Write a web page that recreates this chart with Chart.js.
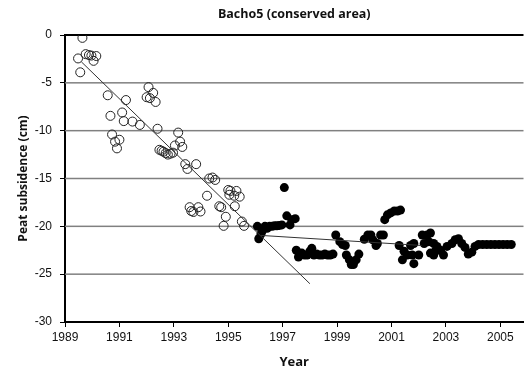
<!DOCTYPE html>
<html>
<head>
<meta charset="utf-8">
<script src="https://cdn.jsdelivr.net/npm/chart.js@4"></script>
<style>
    body { margin: 0; background: #fff; }
    #wrap { width: 529px; height: 371px; position: relative; }
</style>
</head>
<body>
<div id="wrap"><canvas id="subsidenceChart"></canvas></div>
<script>
// Open circles (before 1996): [year, subsidence cm]
const openPoints = [
    [1989.48, -2.45], [1989.56, -3.9], [1989.64, -0.3], [1989.76, -2.0], [1989.88, -2.1],
    [1989.97, -2.15], [1990.05, -2.7], [1990.15, -2.2], [1990.57, -6.3], [1990.67, -8.45],
    [1990.73, -10.4], [1990.84, -11.15], [1990.91, -11.85], [1991.0, -10.95], [1991.1, -8.1],
    [1991.16, -9.0], [1991.24, -6.8], [1991.48, -9.05], [1991.75, -9.4], [1992.0, -6.5],
    [1992.07, -5.45], [1992.12, -6.6], [1992.24, -6.05], [1992.33, -7.0], [1992.4, -9.8],
    [1992.47, -12.0], [1992.55, -12.1], [1992.62, -12.2], [1992.7, -12.35], [1992.78, -12.5],
    [1992.88, -12.4], [1992.97, -12.3], [1993.04, -11.55], [1993.16, -10.2], [1993.23, -11.15],
    [1993.31, -11.7], [1993.42, -13.5], [1993.5, -14.0], [1993.82, -13.5], [1993.58, -18.0],
    [1993.64, -18.4], [1993.72, -18.5], [1993.9, -18.0], [1993.98, -18.45], [1994.22, -16.8],
    [1994.3, -15.0], [1994.42, -14.9], [1994.52, -15.15], [1994.67, -17.9], [1994.74, -18.0],
    [1994.83, -19.95], [1994.91, -19.0], [1995.0, -16.2], [1995.08, -16.3], [1995.3, -16.3],
    [1995.42, -16.9], [1995.24, -17.9], [1995.5, -19.5], [1995.58, -19.95], [1995.04, -16.7],
    [1995.22, -16.8]
];

// Filled circles (1996 onwards)
const filledPoints = [
    [1996.07, -20.0], [1996.12, -21.3], [1996.2, -20.8], [1996.25, -20.5], [1996.35, -20.0],
    [1996.43, -20.2], [1996.52, -20.0], [1996.61, -20.0], [1996.7, -19.95], [1996.79, -19.95],
    [1996.88, -19.9], [1996.97, -19.85], [1997.06, -15.95], [1997.15, -18.9], [1997.27, -19.85],
    [1997.33, -19.3], [1997.46, -19.2], [1997.5, -22.5], [1997.58, -23.2], [1997.7, -22.8],
    [1997.8, -23.0], [1997.9, -23.0], [1998.0, -22.6], [1998.07, -22.3], [1998.15, -23.0],
    [1998.25, -22.9], [1998.35, -23.0], [1998.45, -23.0], [1998.55, -22.9], [1998.65, -23.0],
    [1998.75, -23.0], [1998.85, -22.9], [1998.95, -20.9], [1999.1, -21.6], [1999.2, -21.9],
    [1999.3, -22.0], [1999.34, -23.0], [1999.45, -23.5], [1999.52, -24.0], [1999.6, -24.0],
    [1999.7, -23.5], [1999.8, -22.9], [2000.0, -21.35], [2000.13, -20.9], [2000.24, -20.9],
    [2000.31, -21.4], [2000.43, -22.0], [2000.48, -21.8], [2000.6, -20.9], [2000.7, -20.9],
    [2000.75, -19.3], [2000.85, -18.8], [2000.97, -18.6], [2001.1, -18.4], [2001.22, -18.4],
    [2001.33, -18.3], [2001.28, -22.0], [2001.4, -23.5], [2001.46, -22.6], [2001.58, -23.0],
    [2001.7, -22.0], [2001.76, -23.0], [2001.82, -23.9], [2001.82, -21.8], [2002.0, -23.0],
    [2002.13, -20.9], [2002.2, -21.8], [2002.31, -20.9], [2002.37, -21.6], [2002.43, -20.7],
    [2002.43, -22.8], [2002.55, -21.8], [2002.55, -23.0], [2002.61, -22.6], [2002.67, -22.1],
    [2002.8, -22.5], [2002.91, -23.0], [2003.04, -22.1], [2003.22, -21.8], [2003.34, -21.4],
    [2003.46, -21.3], [2003.58, -21.8], [2003.7, -22.2], [2003.82, -22.9], [2003.95, -22.7],
    [2004.07, -22.1], [2004.2, -21.9], [2004.35, -21.9], [2004.5, -21.9], [2004.65, -21.9],
    [2004.8, -21.9], [2004.95, -21.9], [2005.1, -21.9], [2005.25, -21.9], [2005.4, -21.9]
];

// Trend lines (end points)
const trendEarly = [[1989.6, -2.8], [1998.0, -26.0]];
const trendLate = [[1996.2, -20.95], [2002.1, -22.0]];

const xTicks = [1989, 1991, 1993, 1995, 1997, 1999, 2001, 2003, 2005];
const yTicks = [-30, -25, -20, -15, -10, -5, 0];
const xMin = 1989;
const xMax = 2005.85;

const toXY = arr => arr.map(p => ({ x: p[0], y: p[1] }));

const tickFont = { family: '"Liberation Sans", Arial, sans-serif', size: 12 };
const boldFont = size => ({ family: '"Open Sans", sans-serif', size: size, weight: 'bold' });

// horizontal grid lines, filled as thin bands through the y scale
const gridPlugin = {
    id: 'hgrid',
    beforeDatasetsDraw(chart) {
        const { ctx, chartArea, scales } = chart;
        ctx.save();
        yTicks.forEach(v => {
            if (v === -30) return;
            const py = scales.y.getPixelForValue(v);
            ctx.fillStyle = v === 0 ? '#000000' : '#808080';
            const h = v === 0 ? 2 : 1.5;
            ctx.fillRect(chartArea.left, py - h / 2, chartArea.right - chartArea.left, h);
        });
        ctx.restore();
    }
};

new Chart(document.getElementById('subsidenceChart'), {
    type: 'scatter',
    data: {
        datasets: [
            {
                type: 'line',
                data: toXY(trendEarly),
                borderColor: '#333',
                borderWidth: 1,
                pointRadius: 0,
                fill: false,
                order: 0
            },
            {
                type: 'line',
                data: toXY(trendLate),
                borderColor: '#333',
                borderWidth: 1,
                pointRadius: 0,
                fill: false,
                order: 0
            },
            {
                data: toXY(openPoints),
                pointStyle: 'circle',
                pointRadius: 4.5,
                borderColor: '#222',
                borderWidth: 1,
                backgroundColor: 'rgba(0,0,0,0)',
                order: 1
            },
            {
                data: toXY(filledPoints),
                pointStyle: 'circle',
                pointRadius: 4.5,
                borderColor: '#000',
                borderWidth: 0,
                backgroundColor: '#000',
                order: 1
            }
        ]
    },
    options: {
        responsive: true,
        maintainAspectRatio: false,
        animation: false,
        layout: { padding: { right: -5 } },
        plugins: {
            legend: { display: false },
            tooltip: { enabled: false },
            title: {
                display: true,
                text: 'Bacho5 (conserved area)',
                color: '#111',
                font: boldFont(12.5),
                fullSize: false,
                padding: { top: 7, bottom: 13 }
            }
        },
        scales: {
            x: {
                type: 'linear',
                min: xMin,
                max: xMax,
                afterFit: s => { s.height = 49; },
                afterBuildTicks: s => { s.ticks = xTicks.map(v => ({ value: v })); },
                ticks: {
                    color: '#111',
                    font: tickFont,
                    padding: 3,
                    maxRotation: 0,
                    callback: v => String(v)
                },
                grid: {
                    drawOnChartArea: false,
                    drawTicks: true,
                    tickLength: 5,
                    tickColor: '#000'
                },
                border: { display: true, color: '#000', width: 2 },
                title: {
                    display: true,
                    text: 'Year',
                    color: '#111',
                    font: boldFont(13),
                    padding: { top: 0, bottom: 1 }
                }
            },
            y: {
                min: -30,
                max: 0,
                afterFit: s => { s.width = 65; },
                afterBuildTicks: s => { s.ticks = yTicks.map(v => ({ value: v })); },
                ticks: {
                    color: '#111',
                    font: tickFont,
                    padding: 8
                },
                grid: {
                    drawOnChartArea: false,
                    drawTicks: true,
                    tickLength: 5,
                    tickColor: '#000'
                },
                border: { display: true, color: '#000', width: 2 },
                title: {
                    display: true,
                    text: 'Peat subsidence (cm)',
                    color: '#111',
                    font: boldFont(12),
                    padding: { top: 16, bottom: 0 }
                }
            }
        }
    },
    plugins: [gridPlugin]
});
</script>
</body>
</html>
